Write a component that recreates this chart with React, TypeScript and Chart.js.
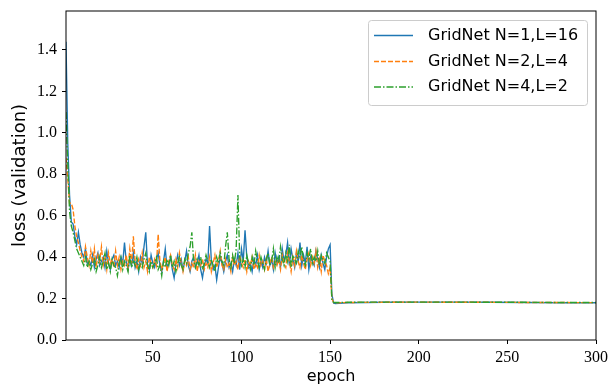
import { useEffect, useRef } from "react";
import { Chart, registerables } from "chart.js";

Chart.register(...registerables);

// ---- data ----
const seriesNames = ["GridNet N=1,L=16", "GridNet N=2,L=4", "GridNet N=4,L=2"];
const seriesColors = ["#1f77b4", "#ff7f0e", "#2ca02c"];
const xTickValues = [50, 100, 150, 200, 250, 300];
const yTickValues = [0, 0.2, 0.4, 0.6, 0.8, 1.0, 1.2, 1.4];
const xRange = [1, 300];
const yRange = [0, 1.588];

// epochs 1..150 (one value per epoch)
const lossN1L16 = [
  1.44, 0.95, 0.70, 0.57, 0.56, 0.50, 0.46, 0.52, 0.46, 0.42,
  0.40, 0.44, 0.37, 0.38, 0.36, 0.41, 0.35, 0.39, 0.42, 0.36,
  0.38, 0.40, 0.35, 0.43, 0.37, 0.34, 0.39, 0.41, 0.36, 0.38,
  0.35, 0.40, 0.37, 0.47, 0.38, 0.34, 0.39, 0.36, 0.42, 0.35,
  0.38, 0.33, 0.40, 0.37, 0.45, 0.52, 0.36, 0.34, 0.41, 0.37,
  0.35, 0.39, 0.42, 0.36, 0.33, 0.38, 0.44, 0.35, 0.37, 0.40,
  0.34, 0.30, 0.37, 0.41, 0.36, 0.39, 0.34, 0.38, 0.43, 0.36,
  0.33, 0.38, 0.40, 0.35, 0.37, 0.41, 0.34, 0.30, 0.36, 0.39,
  0.37, 0.55, 0.38, 0.34, 0.36, 0.29, 0.35, 0.40, 0.37, 0.33,
  0.38, 0.41, 0.35, 0.37, 0.33, 0.39, 0.36, 0.42, 0.34, 0.44,
  0.38, 0.53, 0.40, 0.35, 0.37, 0.33, 0.39, 0.36, 0.41, 0.34,
  0.38, 0.35, 0.40, 0.37, 0.43, 0.36, 0.39, 0.34, 0.42, 0.37,
  0.40, 0.35, 0.44, 0.38, 0.41, 0.47, 0.36, 0.44, 0.39, 0.35,
  0.42, 0.38, 0.47, 0.36, 0.41, 0.37, 0.45, 0.34, 0.40, 0.38,
  0.36, 0.43, 0.39, 0.35, 0.41, 0.37, 0.34, 0.40, 0.44, 0.46,
];
const lossN2L4 = [
  0.88, 0.78, 0.66, 0.66, 0.63, 0.55, 0.50, 0.47, 0.43, 0.40,
  0.38, 0.45, 0.40, 0.36, 0.43, 0.37, 0.44, 0.35, 0.41, 0.38,
  0.45, 0.36, 0.40, 0.34, 0.42, 0.37, 0.39, 0.35, 0.43, 0.36,
  0.40, 0.34, 0.38, 0.36, 0.41, 0.35, 0.44, 0.37, 0.50, 0.38,
  0.34, 0.39, 0.36, 0.42, 0.35, 0.38, 0.33, 0.40, 0.37, 0.35,
  0.39, 0.36, 0.51, 0.38, 0.34, 0.37, 0.40, 0.33, 0.38, 0.41,
  0.36, 0.34, 0.39, 0.35, 0.42, 0.37, 0.33, 0.38, 0.36, 0.40,
  0.34, 0.37, 0.35, 0.41, 0.33, 0.38, 0.36, 0.39, 0.34, 0.37,
  0.35, 0.40, 0.33, 0.37, 0.41, 0.35, 0.38, 0.43, 0.36, 0.34,
  0.39, 0.35, 0.37, 0.33, 0.40, 0.36, 0.38, 0.34, 0.41, 0.37,
  0.35, 0.39, 0.33, 0.38, 0.36, 0.40, 0.34, 0.37, 0.35, 0.41,
  0.36, 0.38, 0.34, 0.39, 0.33, 0.37, 0.40, 0.35, 0.38, 0.36,
  0.39, 0.34, 0.41, 0.37, 0.35, 0.42, 0.38, 0.33, 0.40, 0.36,
  0.43, 0.38, 0.35, 0.41, 0.37, 0.34, 0.39, 0.42, 0.36, 0.40,
  0.37, 0.43, 0.35, 0.39, 0.33, 0.41, 0.38, 0.36, 0.32, 0.35,
];
const lossN4L2 = [
  1.10, 0.85, 0.62, 0.55, 0.52, 0.48, 0.44, 0.42, 0.40, 0.38,
  0.36, 0.40, 0.35, 0.38, 0.34, 0.37, 0.39, 0.33, 0.36, 0.40,
  0.35, 0.38, 0.42, 0.34, 0.37, 0.33, 0.39, 0.36, 0.35, 0.31,
  0.37, 0.40, 0.34, 0.38, 0.36, 0.33, 0.41, 0.35, 0.38, 0.36,
  0.40, 0.34, 0.37, 0.35, 0.39, 0.42, 0.36, 0.33, 0.38, 0.35,
  0.37, 0.40, 0.34, 0.36, 0.31, 0.38, 0.35, 0.39, 0.36, 0.41,
  0.35, 0.38, 0.33, 0.37, 0.40, 0.36, 0.34, 0.39, 0.37, 0.42,
  0.45, 0.52, 0.38, 0.35, 0.39, 0.36, 0.40, 0.34, 0.37, 0.41,
  0.38, 0.35, 0.39, 0.36, 0.33, 0.40, 0.37, 0.42, 0.38, 0.36,
  0.45, 0.52, 0.39, 0.35, 0.41, 0.37, 0.44, 0.70, 0.40, 0.36,
  0.39, 0.35, 0.41, 0.37, 0.34, 0.40, 0.36, 0.43, 0.38, 0.35,
  0.40, 0.37, 0.34, 0.39, 0.42, 0.36, 0.38, 0.44, 0.35, 0.40,
  0.37, 0.45, 0.39, 0.36, 0.42, 0.38, 0.46, 0.35, 0.41, 0.39,
  0.37, 0.43, 0.40, 0.45, 0.38, 0.36, 0.42, 0.39, 0.44, 0.37,
  0.40, 0.38, 0.43, 0.36, 0.41, 0.39, 0.37, 0.42, 0.40, 0.38,
];

// after the learning-rate drop the curves are flat: sampled epochs
const tailEpochs = [151, 152, 153, 155, 160, 180, 200, 220, 240, 260, 280, 300];
const tailN1L16 = [0.22, 0.178, 0.176, 0.177, 0.180, 0.182, 0.183, 0.183, 0.182, 0.181, 0.180, 0.180];
const tailN2L4 = [0.20, 0.180, 0.179, 0.180, 0.181, 0.182, 0.183, 0.182, 0.182, 0.181, 0.181, 0.180];
const tailN4L2 = [0.19, 0.182, 0.181, 0.181, 0.182, 0.183, 0.183, 0.183, 0.182, 0.182, 0.181, 0.181];

const firstEpoch = 1;

// ---- styles ----
const lineDashes = [[], [5, 2], [7, 2, 1.5, 2]];
const tickFont = { family: "'Liberation Serif', 'DejaVu Serif', serif", size: 16 };
const xLabelFont = { family: "'DejaVu Sans', sans-serif", size: 16, lineHeight: 1 };
const yLabelFont = { family: "'DejaVu Sans', sans-serif", size: 18, lineHeight: 1 };

function buildPoints(head: number[], tail: number[]) {
  const pts = head.map((v, i) => ({ x: firstEpoch + i, y: v }));
  return pts.concat(tailEpochs.map((e, j) => ({ x: e, y: tail[j] })));
}

const framePlugin = {
  id: "frame",
  afterDatasetsDraw(chart: any) {
    const { ctx, chartArea } = chart;
    ctx.save();
    ctx.strokeStyle = "#000";
    ctx.lineWidth = 1;
    ctx.strokeRect(chartArea.left, chartArea.top, chartArea.right - chartArea.left, chartArea.bottom - chartArea.top);
    ctx.restore();
  },
};

const legendPlugin = {
  id: "mplLegend",
  afterDraw(chart: any) {
    const { ctx } = chart;
    const box = { x: 368, y: 20, w: 219, h: 85, r: 3 };
    ctx.save();
    ctx.beginPath();
    ctx.roundRect(box.x + 0.5, box.y + 0.5, box.w, box.h, box.r);
    ctx.fillStyle = "rgba(255,255,255,0.8)";
    ctx.fill();
    ctx.strokeStyle = "#cccccc";
    ctx.lineWidth = 1;
    ctx.stroke();
    const rowsY = [35.5, 61.5, 87];
    ctx.font = "16px 'DejaVu Sans', sans-serif";
    ctx.textBaseline = "middle";
    ctx.textAlign = "left";
    seriesNames.forEach((name, i) => {
      const y = rowsY[i];
      ctx.beginPath();
      ctx.setLineDash(lineDashes[i]);
      ctx.strokeStyle = seriesColors[i];
      ctx.lineWidth = 1.35;
      ctx.moveTo(374, y);
      ctx.lineTo(413, y);
      ctx.stroke();
      ctx.setLineDash([]);
      ctx.fillStyle = "#000";
      ctx.fillText(name, 428, y);
    });
    ctx.restore();
  },
};

export default function App() {
  const canvasRef = useRef<HTMLCanvasElement | null>(null);

  useEffect(() => {
    const canvas = canvasRef.current;
    if (!canvas) return;
    const heads = [lossN1L16, lossN2L4, lossN4L2];
    const tails = [tailN1L16, tailN2L4, tailN4L2];
    const chart = new Chart(canvas, {
      type: "line",
      data: {
        datasets: seriesNames.map((name, i) => ({
          label: name,
          data: buildPoints(heads[i], tails[i]),
          borderColor: seriesColors[i],
          backgroundColor: seriesColors[i],
          borderWidth: 1.35,
          borderDash: lineDashes[i],
          pointRadius: 0,
          tension: 0,
          fill: false,
          order: 2 - i,
        })),
      },
      options: {
        animation: false,
        responsive: false,
        devicePixelRatio: 1,
        layout: { padding: { left: 0, right: 15, top: 11, bottom: 0 } },
        plugins: {
          legend: { display: false },
          tooltip: { enabled: false },
        },
        scales: {
          x: {
            type: "linear",
            min: xRange[0],
            max: xRange[1],
            afterBuildTicks: (s: any) => {
              s.ticks = xTickValues.map((v) => ({ value: v }));
            },
            afterFit: (s: any) => {
              s.height = 45;
              s.paddingLeft = 0;
              s.paddingRight = 0;
            },
            ticks: { font: tickFont, color: "#000", padding: 4, maxRotation: 0, autoSkip: false },
            grid: { drawOnChartArea: false, drawTicks: true, tickLength: 4, color: "#000", lineWidth: 1 },
            border: { display: false },
            title: { display: true, text: "epoch", font: xLabelFont, color: "#000", padding: { top: 0, bottom: 0 } },
          },
          y: {
            type: "linear",
            min: yRange[0],
            max: yRange[1],
            afterBuildTicks: (s: any) => {
              s.ticks = yTickValues.map((v) => ({ value: v }));
            },
            afterFit: (s: any) => {
              s.width = 66;
              s.paddingTop = 0;
              s.paddingBottom = 0;
            },
            ticks: {
              font: tickFont,
              color: "#000",
              padding: 5,
              autoSkip: false,
              callback: (v: any) => Number(v).toFixed(1),
            },
            grid: { drawOnChartArea: false, drawTicks: true, tickLength: 4, color: "#000", lineWidth: 1 },
            border: { display: false },
            title: { display: true, text: "loss (validation)", font: yLabelFont, color: "#000", padding: { top: 11, bottom: 0 } },
          },
        },
      },
      plugins: [framePlugin, legendPlugin],
    });
    return () => chart.destroy();
  }, []);

  return (
    <div style={{ position: "fixed", left: 0, top: 0, width: 611, height: 385, background: "#fff" }}>
      <canvas ref={canvasRef} width={611} height={385} style={{ display: "block" }} />
    </div>
  );
}
